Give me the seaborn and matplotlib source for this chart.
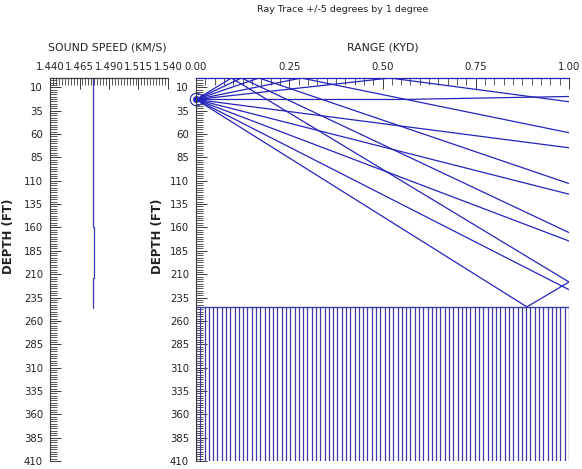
import numpy as np
import pandas as pd
import matplotlib
matplotlib.use("Agg")
import matplotlib.pyplot as plt
import seaborn as sns
from matplotlib.ticker import MultipleLocator, FixedLocator

sns.set_style("ticks")
plt.rcParams['font.family'] = ['DejaVu Sans']

# ---------------- data ----------------
title = "Ray Trace +/-5 degrees by 1 degree"
speed_ticks = [1.440, 1.465, 1.490, 1.515, 1.540]
range_ticks = [0.00, 0.25, 0.50, 0.75, 1.00]
depth_ticks = [10, 35, 60, 85, 110, 135, 160, 185, 210, 235, 260, 285, 310, 335, 360, 385, 410]

# sound speed profile (km/s) vs depth (ft)
ssp_depth = [0, 78, 78, 159, 159, 214, 214, 246]
ssp_speed = [1.4762, 1.4762, 1.4767, 1.4767, 1.4775, 1.4775, 1.4767, 1.4767]

source_depth = 23
bottom_depth = 245

ray_angles = [-5, -4, -3, -2, -1, 0, 1, 2, 3, 4, 5]
ray_m5_range = [0, 0.095, 1.0];  ray_m5_depth = [23, 0, 218.4]
ray_m4_range = [0, 0.122, 1.0];  ray_m4_depth = [23, 0, 165.5]
ray_m3_range = [0, 0.169, 1.0];  ray_m3_depth = [23, 0, 113.0]
ray_m2_range = [0, 0.282, 1.0];  ray_m2_depth = [23, 0, 58.6]
ray_m1_range = [0, 0.52, 1.0];   ray_m1_depth = [23, 0, 25.4]
ray_0_range = [0, 0.55, 1.0];    ray_0_depth = [23, 23, 19.8]
ray_p1_range = [0, 1.0];         ray_p1_depth = [23, 74.7]
ray_p2_range = [0, 1.0];         ray_p2_depth = [23, 124.4]
ray_p3_range = [0, 1.0];         ray_p3_depth = [23, 174.5]
ray_p4_range = [0, 1.0];         ray_p4_depth = [23, 226.6]
ray_p5_range = [0, 0.887, 1.0];  ray_p5_depth = [23, 245, 218.4]

ray_ranges = [ray_m5_range, ray_m4_range, ray_m3_range, ray_m2_range, ray_m1_range,
              ray_0_range, ray_p1_range, ray_p2_range, ray_p3_range, ray_p4_range, ray_p5_range]
ray_depths = [ray_m5_depth, ray_m4_depth, ray_m3_depth, ray_m2_depth, ray_m1_depth,
              ray_0_depth, ray_p1_depth, ray_p2_depth, ray_p3_depth, ray_p4_depth, ray_p5_depth]

rows = []
for ang, rr, dd in zip(ray_angles, ray_ranges, ray_depths):
    for k, (r, d) in enumerate(zip(rr, dd)):
        rows.append({"ray": ang, "order": k, "range": r, "depth": d})
rays = pd.DataFrame(rows)
ssp = pd.DataFrame({"depth": ssp_depth, "speed": ssp_speed})

# ---------------- figure ----------------
W, H = 582, 469
fig = plt.figure(figsize=(W / 100, H / 100), dpi=100)

def fx(px):
    return px / W

def fy(py):
    return 1 - py / H

top_px, bot_px = 78, 461
axL = fig.add_axes([fx(50), fy(bot_px), fx(168) - fx(50), fy(top_px) - fy(bot_px)])
axR = fig.add_axes([fx(196), fy(bot_px), fx(569) - fx(196), fy(top_px) - fy(bot_px)])

ray_color = "#2424bb"
tick_color = "#3a3a3a"

# left: sound speed
sns.lineplot(data=ssp, x="speed", y="depth", sort=False, estimator=None,
             color="#3a3ab0", lw=0.9, ax=axL)
axL.set_xlim(1.440, 1.540)
axL.set_ylim(410, 0)

# right: ray trace
sns.lineplot(data=rays, x="range", y="depth", units="ray", sort=False, estimator=None,
             color=ray_color, lw=0.9, ax=axR, legend=False)
axR.set_xlim(0, 1.0)
axR.set_ylim(410, 0)

# bottom (sea floor) hatching
hatch_x = np.linspace(0, 1, 88)
axR.vlines(hatch_x, bottom_depth, 410, color="#3c3ca8", lw=0.9)
axR.hlines(bottom_depth, 0, 1, color="#3c3ca8", lw=1.0)

# source marker
axR.plot([0], [source_depth], marker="o", ms=9, mfc="none", mec=ray_color, mew=0.8, clip_on=False)
axR.plot([0], [source_depth], marker="o", ms=4, mfc=ray_color, mec=ray_color, clip_on=False)

for ax in (axL, axR):
    ax.set_xlabel("")
    ax.set_ylabel("")
    for s in ("right", "bottom"):
        ax.spines[s].set_visible(False)
    ax.spines["left"].set_visible(True)
    ax.spines["top"].set_visible(True)
    ax.spines["left"].set_color(tick_color)
    ax.spines["left"].set_linewidth(0.8)
    ax.spines["top"].set_linewidth(0.9)
    ax.xaxis.tick_top()
    ax.yaxis.tick_left()
    ax.yaxis.set_major_locator(FixedLocator(depth_ticks))
    ax.yaxis.set_minor_locator(MultipleLocator(2.5))
    ax.set_yticklabels([str(t) for t in depth_ticks])
    ax.tick_params(axis="both", which="major", direction="in", length=8, width=0.7,
                   colors=tick_color, labelsize=7.3, labelcolor="#222222")
    ax.tick_params(axis="both", which="minor", direction="in", length=5, width=0.6,
                   colors=tick_color)
    ax.tick_params(axis="y", which="both", left=True, right=False)
    ax.tick_params(axis="y", which="major", pad=5)
    ax.tick_params(axis="x", which="major", pad=4)
    ax.tick_params(axis="x", which="both", top=True, bottom=False)

axL.spines["top"].set_color(tick_color)
axR.spines["top"].set_color(ray_color)

axL.xaxis.set_major_locator(FixedLocator(speed_ticks))
axL.xaxis.set_minor_locator(MultipleLocator(0.0025))
axL.set_xticklabels([f"{t:.3f}" for t in speed_ticks])

axR.xaxis.set_major_locator(FixedLocator(range_ticks))
axR.xaxis.set_minor_locator(MultipleLocator(0.025))
axR.set_xticklabels([f"{t:.2f}" for t in range_ticks])

# texts
fig.text(fx(343), fy(9), title, ha="center", va="center", fontsize=6.8, color="#222222")
fig.text(fx(107), fy(48), "SOUND SPEED (KM/S)", ha="center", va="center", fontsize=7.8, color="#222222")
fig.text(fx(383), fy(48), "RANGE (KYD)", ha="center", va="center", fontsize=7.8, color="#222222")
fig.text(fx(9), fy(236), "DEPTH (FT)", ha="center", va="center", rotation=90,
         fontsize=8.5, fontweight="bold", color="#222222")
fig.text(fx(158), fy(236), "DEPTH (FT)", ha="center", va="center", rotation=90,
         fontsize=8.5, fontweight="bold", color="#222222")

fig.savefig("out.png", dpi=100)
